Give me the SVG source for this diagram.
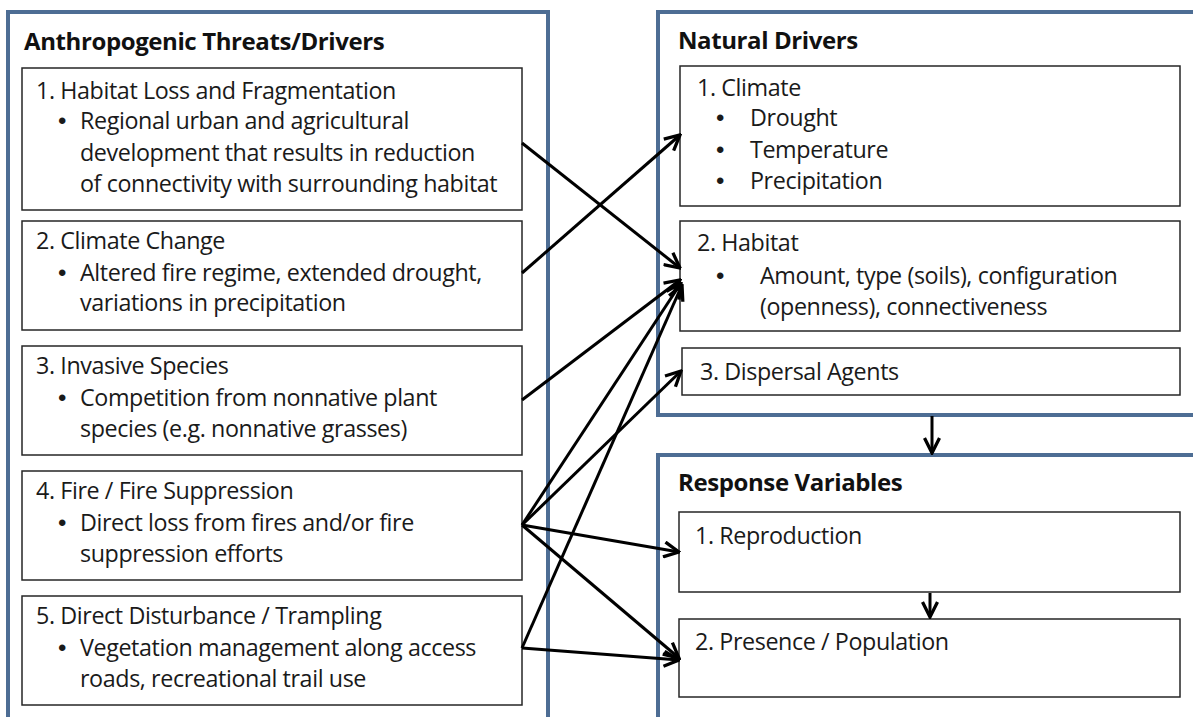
<svg xmlns="http://www.w3.org/2000/svg" width="1193" height="717" viewBox="0 0 1193 717">
<style>
.panel{fill:#fff;stroke:#4d6d94;stroke-width:4}
.box{fill:#fff;stroke:#262626;stroke-width:1.5}
.t{font-family:"Open Sans",Lato,sans-serif;font-size:23.3px;fill:#1a1a1a;letter-spacing:-0.4px}
.b{font-family:"Liberation Sans",sans-serif;font-size:24px;fill:#1a1a1a}
.h{font-family:"Open Sans",Lato,sans-serif;font-size:24px;font-weight:bold;fill:#111;letter-spacing:-0.4px}
.c{stroke:#000;stroke-width:3;fill:none;marker-end:url(#ah)}
</style>
<defs>
<marker id="ah" viewBox="0 0 12 12" refX="11" refY="6" markerWidth="6" markerHeight="6" markerUnits="strokeWidth" orient="auto">
<path d="M1,1 L11,6 L1,11" fill="none" stroke="#000" stroke-width="2.2"/>
</marker>
</defs>
<rect width="1193" height="717" fill="#fff"/>
<g id="anthropogenic">
<rect class="panel" x="8" y="12" width="540" height="720"/>
<text class="h" x="24" y="50">Anthropogenic Threats/Drivers</text>
</g>
<g id="habitat-loss">
<rect class="box" x="22" y="68" width="500" height="142"/>
<text class="t" x="36" y="99">1. Habitat Loss and Fragmentation</text>
<text class="b" x="58" y="129">•</text>
<text class="t" x="80" y="129">Regional urban and agricultural</text>
<text class="t" x="80" y="161">development that results in reduction</text>
<text class="t" x="80" y="192">of connectivity with surrounding habitat</text>
</g>
<g id="climate-change">
<rect class="box" x="22" y="221" width="500" height="109"/>
<text class="t" x="36" y="249">2. Climate Change</text>
<text class="b" x="58" y="281">•</text>
<text class="t" x="80" y="281">Altered fire regime, extended drought,</text>
<text class="t" x="80" y="311">variations in precipitation</text>
</g>
<g id="invasive">
<rect class="box" x="22" y="346" width="500" height="109"/>
<text class="t" x="36" y="374">3. Invasive Species</text>
<text class="b" x="58" y="406">•</text>
<text class="t" x="80" y="406">Competition from nonnative plant</text>
<text class="t" x="80" y="437">species (e.g. nonnative grasses)</text>
</g>
<g id="fire">
<rect class="box" x="22" y="471" width="500" height="109"/>
<text class="t" x="36" y="499">4. Fire / Fire Suppression</text>
<text class="b" x="58" y="531">•</text>
<text class="t" x="80" y="531">Direct loss from fires and/or fire</text>
<text class="t" x="80" y="562">suppression efforts</text>
</g>
<g id="disturbance">
<rect class="box" x="22" y="596" width="500" height="109"/>
<text class="t" x="36" y="624">5. Direct Disturbance / Trampling</text>
<text class="b" x="58" y="656">•</text>
<text class="t" x="80" y="656">Vegetation management along access</text>
<text class="t" x="80" y="687">roads, recreational trail use</text>
</g>
<g id="natural">
<rect class="panel" x="658" y="12" width="545" height="403"/>
<text class="h" x="678" y="49">Natural Drivers</text>
</g>
<g id="climate">
<rect class="box" x="680" y="66" width="500" height="140"/>
<text class="t" x="697" y="96">1. Climate</text>
<text class="b" x="716" y="126">•</text>
<text class="t" x="750" y="126">Drought</text>
<text class="b" x="716" y="158">•</text>
<text class="t" x="750" y="158">Temperature</text>
<text class="b" x="716" y="189">•</text>
<text class="t" x="750" y="189">Precipitation</text>
</g>
<g id="habitat">
<rect class="box" x="680" y="221" width="500" height="110"/>
<text class="t" x="697" y="251">2. Habitat</text>
<text class="b" x="716" y="284">•</text>
<text class="t" x="760" y="284">Amount, type (soils), configuration</text>
<text class="t" x="760" y="315">(openness), connectiveness</text>
</g>
<g id="dispersal">
<rect class="box" x="682" y="348" width="498" height="47"/>
<text class="t" x="700" y="380">3. Dispersal Agents</text>
</g>
<g id="response">
<rect class="panel" x="658" y="455" width="545" height="280"/>
<text class="h" x="678" y="491">Response Variables</text>
</g>
<g id="reproduction">
<rect class="box" x="679" y="512" width="501" height="80"/>
<text class="t" x="695" y="544">1. Reproduction</text>
</g>
<g id="presence">
<rect class="box" x="679" y="619" width="501" height="78"/>
<text class="t" x="695" y="650">2. Presence / Population</text>
</g>
<g id="connectors">
<line class="c" x1="522" y1="143" x2="680" y2="268"/>
<line class="c" x1="522" y1="273" x2="680" y2="135"/>
<line class="c" x1="522" y1="400" x2="680" y2="280"/>
<line class="c" x1="522" y1="525" x2="681" y2="283"/>
<line class="c" x1="522" y1="525" x2="681" y2="371"/>
<line class="c" x1="522" y1="525" x2="679" y2="552"/>
<line class="c" x1="522" y1="525" x2="679" y2="658"/>
<line class="c" x1="522" y1="648" x2="682" y2="285"/>
<line class="c" x1="522" y1="648" x2="679" y2="660"/>
<line class="c" x1="932" y1="416" x2="932" y2="453"/>
<line class="c" x1="930" y1="593" x2="930" y2="617"/>
</g>
</svg>
